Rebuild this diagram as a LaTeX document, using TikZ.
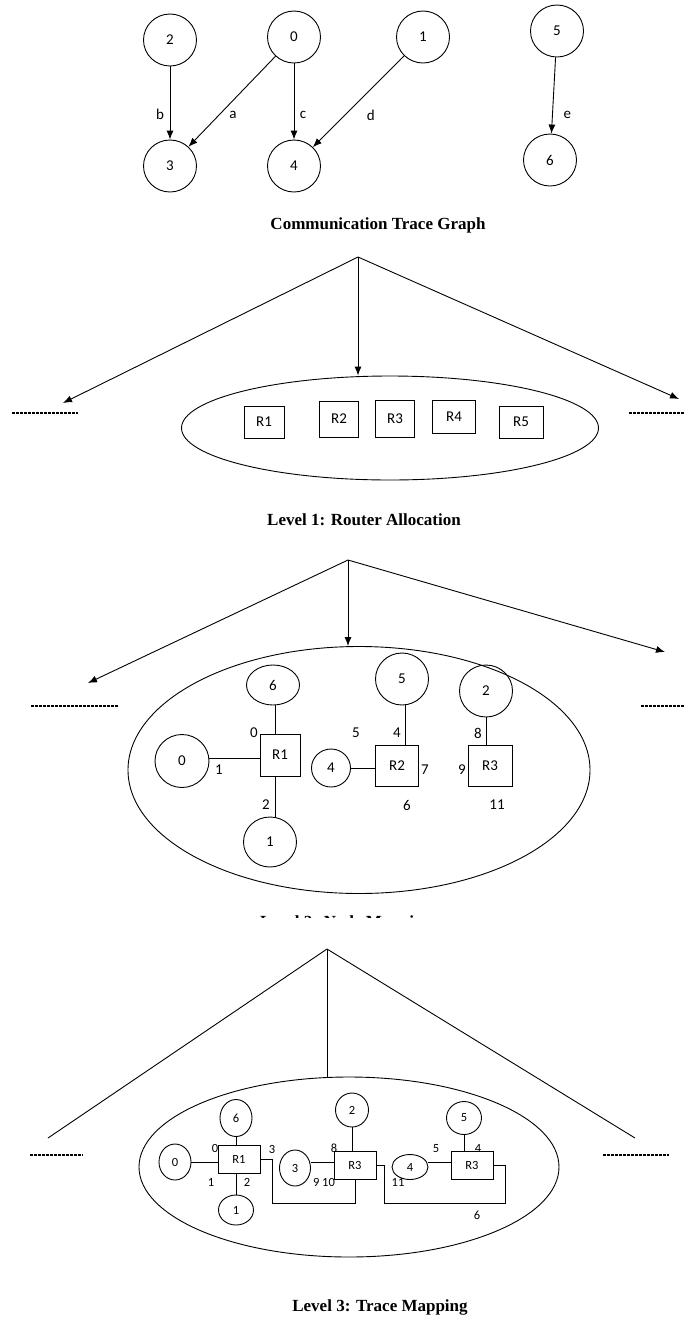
\documentclass[tikz,border=0pt]{standalone}
\usepackage{fontspec}
\setmainfont{Carlito}
\newfontfamily\capfont{Liberation Serif}
\usetikzlibrary{arrows.meta,positioning,shapes.geometric}

\begin{document}
\begin{tikzpicture}[x=1pt,y=-1pt,line width=0.9pt,>={Latex[length=9pt,width=7pt]},
            node distance=126pt,on grid,font=\fontsize{15}{17}\selectfont,
            proc/.style={draw,ellipse,inner sep=0pt,minimum width=53pt,minimum height=52pt},
            sproc/.style={draw,ellipse,inner sep=0pt,font=\fontsize{12.5}{14}\selectfont},
            rtr/.style={draw,rectangle,inner sep=0pt,minimum width=40pt,minimum height=33pt},
            srtr/.style={draw,rectangle,inner sep=0pt,minimum width=42pt,minimum height=28pt,font=\fontsize{12.5}{14}\selectfont},
            port/.style={inner sep=0pt},
            sport/.style={inner sep=0pt,font=\fontsize{12.5}{14}\selectfont},
            level/.style={draw,ellipse,inner sep=0pt},
            caption/.style={font=\capfont\bfseries\fontsize{17}{20}\selectfont},
            dots/.style={line width=1.3pt,dash pattern=on 2.5pt off 1.5pt}]
            \useasboundingbox (0,0) rectangle (686,1323);

            \node[proc]    (t_2) at (170,40) {2};
            \node[proc]    (t_0) at (294,37) {0};
            \node[proc]    (t_1) at (423,37) {1};
            \node[proc]    (t_5) at (557,31) {5};
            \node[proc]    (t_3) [below=126pt of t_2] {3};
            \node[proc]    (t_4) [below=129pt of t_0] {4};
            \node[proc]    (t_6) at (550,160) {6};

            \path[->]
            (t_2) edge node[pos=.66,xshift=-10pt] {b}   (t_3)
            (t_0) edge node[pos=.65,xshift=14pt] {a}   (t_3)
                  edge node[pos=.67,xshift=9pt] {c}   (t_4)
            (t_1) edge node[pos=.65,xshift=26pt] {d}   (t_4)
            (t_5) edge node[pos=.75,xshift=15pt] {e}   (t_6)
            ;
            \node[caption] (cap_0) at (378,225) {Communication Trace Graph};

            \coordinate (a_top) at (358,257);
            \coordinate (a_left) at (63,403);
            \coordinate (a_right) at (679,399);
            \node[level, minimum width=417pt, minimum height=104pt] (alloc) at (390,428) {};
            \node[rtr, minimum width=40pt, minimum height=32pt] (a_r1) at (264,422) {R1};
            \node[rtr, minimum width=39pt, minimum height=36pt] (a_r2) at (339,419) {R2};
            \node[rtr, minimum width=39pt, minimum height=37pt] (a_r3) at (395,419) {R3};
            \node[rtr, minimum width=43pt, minimum height=33pt] (a_r4) at (454,417) {R4};
            \node[rtr, minimum width=44pt, minimum height=32pt] (a_r5) at (521,422) {R5};
            \draw[->] (a_top) -- (a_left);
            \draw[->] (a_top) -- (a_top |- alloc.north);
            \draw[->] (a_top) -- (a_right);
            \draw[dots] (12,413) -- (78,413);
            \draw[dots] (629,413) -- (685,413);
            \node[caption] (cap_1) at (364,520) {Level 1: Router Allocation};

            \coordinate (m_top) at (348,560);
            \coordinate (m_left) at (88,683);
            \coordinate (m_right) at (665,652);
            \node[level, minimum width=462pt, minimum height=247pt] (nmap) at (359,770) {};
            \draw[->] (m_top) -- (m_left);
            \draw[->] (m_top) -- (m_top |- nmap.north);
            \draw[->] (m_top) -- (m_right);
            \draw[dots] (31,706) -- (119,706);
            \draw[dots] (641,706) -- (685,706);

            \node[rtr, minimum width=40pt, minimum height=42pt] (m_r1) at (280,755) {R1};
            \node[rtr, minimum width=43pt, minimum height=41pt] (m_r2) at (397,766) {R2};
            \node[rtr, minimum width=44pt, minimum height=41pt] (m_r3) at (490,766) {R3};
            \node[proc, minimum height=40pt] (m_6) at (273,685) {6};
            \node[proc, minimum width=54pt, minimum height=53pt] (m_0) at (182,761) {0};
            \node[proc, minimum height=50pt] (m_1) at (270,842) {1};
            \node[proc, minimum width=39pt, minimum height=38pt] (m_4) at (331,768) {4};
            \node[proc] (m_5) at (402,679) {5};
            \node[proc] (m_2) at (486,691) {2};
            \draw (m_6.south -| 275,0) -- (m_r1.north -| 275,0);
            \draw (m_0.east |- 0,758) -- (m_r1.west |- 0,758);
            \draw (m_r1.south -| 275,0) -- (m_1.north -| 275,0);
            \draw (m_4) -- (m_r2.west |- m_4);
            \draw (m_5.south -| 405,0) -- (m_r2.north -| 405,0);
            \draw (m_2) -- (m_2 |- m_r3.north);
            \node[port] (p_0) at (254,733) {0};
            \node[port] (p_1) at (219,770) {1};
            \node[port] (p_2) at (266,805) {2};
            \node[port] (p_5) at (356,733) {5};
            \node[port] (p_4) at (397,733) {4};
            \node[port] (p_7) at (425,770) {7};
            \node[port] (p_6) at (407,805) {6};
            \node[port] (p_8) at (478,733) {8};
            \node[port] (p_9) at (462,770) {9};
            \node[port] (p_11) at (497,805) {11};
            \begin{scope}
              \clip (0,900) rectangle (686,917.5);
              \node[caption, anchor=base] (cap_2) at (346,927.5) {Level 2: Node Mapping};
            \end{scope}

            \coordinate (l_top) at (327,949);
            \coordinate (l_left) at (48,1138);
            \coordinate (l_right) at (635,1138);
            \node[level, minimum width=420pt, minimum height=180pt] (tmap) at (349,1167) {};
            \draw (l_top) -- (l_left);
            \draw (l_top) -- (l_top |- tmap.north);
            \draw (l_top) -- (l_right);
            \draw[dots] (30,1155) -- (83,1155);
            \draw[dots] (603,1155) -- (669,1155);

            \node[srtr] (l_r1) at (239,1159) {R1};
            \node[srtr] (l_r3a) at (355,1165) {R3};
            \node[srtr] (l_r3b) at (472,1165) {R3};
            \node[sproc, minimum width=32pt, minimum height=37pt] (l_6) at (236,1118) {6};
            \node[sproc, minimum width=32pt, minimum height=36pt] (l_0) at (175,1162) {0};
            \node[sproc, minimum width=35pt, minimum height=30pt] (l_1) at (236,1210) {1};
            \node[sproc, minimum width=31pt, minimum height=36pt] (l_3) at (295,1168) {3};
            \node[sproc, minimum width=33pt, minimum height=34pt] (l_2) at (352,1110) {2};
            \node[sproc, minimum width=36pt, minimum height=25pt] (l_4) at (410,1167) {4};
            \node[sproc, minimum width=35pt, minimum height=33pt] (l_5) at (464,1118) {5};
            \draw (l_6) -- (l_6 |- l_r1.north);
            \draw (l_0.east |- 0,1162) -- (l_r1.west |- 0,1162);
            \draw (l_1) -- (l_1 |- l_r1.south);
            \draw (l_2) -- (l_2 |- l_r3a.north);
            \draw (l_3.east |- 0,1162) -- (l_r3a.west |- 0,1162);
            \draw (l_5) -- (l_5 |- l_r3b.north);
            \draw (l_4.east |- 0,1162) -- (l_r3b.west |- 0,1162);
            \draw (l_r1.east) -- ++(12,0) -- ++(0,44) -| (l_r3a.south);
            \draw (l_r3a.east) -- ++(8,0) -- ++(0,38) -- ++(121,0) |- (l_r3b.east);
            \node[sport] (q_0) at (215,1148) {0};
            \node[sport] (q_3) at (272,1149) {3};
            \node[sport] (q_1) at (211,1182) {1};
            \node[sport] (q_2) at (247,1182) {2};
            \node[sport] (q_8) at (334,1148) {8};
            \node[sport] (q_910) at (324,1182) {9 10};
            \node[sport] (q_5) at (436,1149) {5};
            \node[sport] (q_4) at (478,1148) {4};
            \node[sport] (q_11) at (398,1182) {11};
            \node[sport] (q_6) at (477,1215) {6};
            \node[caption] (cap_3) at (380,1307) {Level 3: Trace Mapping};
    \end{tikzpicture}
\end{document}
